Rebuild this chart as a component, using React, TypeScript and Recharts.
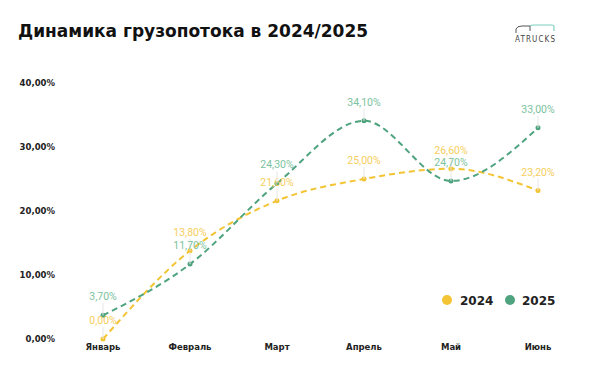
import React from 'react';
import { LineChart, Line, XAxis, YAxis, LabelList } from 'recharts';

// месяцы и значения (%)
const months = ['Январь', 'Февраль', 'Март', 'Апрель', 'Май', 'Июнь'];
const values2024 = [0.0, 13.8, 21.6, 25.0, 26.6, 23.2];
const values2025 = [3.7, 11.7, 24.3, 34.1, 24.7, 33.0];
const yTicks = [0, 10, 20, 30, 40];

const YELLOW = '#F3C433';
const YELLOW_LABEL = '#F6CE5C';
const GREEN = '#4FA37F';
const GREEN_LABEL = '#7CC3A0';

const fmt = (v: number) => v.toFixed(2).replace('.', ',') + '%';

const data = months.map((m, i) => ({ month: m, y2024: values2024[i], y2025: values2025[i] }));

const makeLabel = (color: string) => (props: any) => {
  const { x, y, value } = props;
  return (
    <g>
      <line x1={x} y1={y - 12} x2={x} y2={y} stroke="#e6e6e6" strokeWidth={1} />
      <text x={x} y={y - 15} textAnchor="middle" fill={color} fontSize={10.5} fontFamily="Roboto, sans-serif">
        {fmt(value)}
      </text>
    </g>
  );
};

const App: React.FC = () => {
  return (
    <div style={{ position: 'absolute', left: 0, top: 0, width: 600, height: 373, background: '#fff' }}>
      <div
        style={{
          position: 'absolute',
          left: 18,
          top: 21,
          fontFamily: '"DejaVu Sans", sans-serif',
          fontWeight: 'bold',
          fontSize: 17,
          color: '#111',
          whiteSpace: 'nowrap',
        }}
      >
        Динамика грузопотока в 2024/2025
      </div>

      {/* логотип */}
      <svg width={60} height={30} style={{ position: 'absolute', left: 510, top: 18 }}>
        <path d="M6 15 L6 11 Q7 8 12 8 L20 8 L20 13" fill="none" stroke="#555" strokeWidth={1} />
        <path d="M20 8 Q21 7 24 7 L42 7 Q44 7 44 9 L44 13" fill="none" stroke="#7fd0c0" strokeWidth={1.2} />
        <text x={5} y={24} fontSize={8} fontFamily="'DejaVu Sans Condensed', sans-serif" fill="#444" textLength={40}>
          ATRUCKS
        </text>
      </svg>

      {/* легенда */}
      <svg width={130} height={20} style={{ position: 'absolute', left: 436, top: 290 }}>
        <circle cx={11} cy={10} r={5} fill={YELLOW} />
        <text x={24} y={14.5} fontSize={12} fontWeight="bold" fontFamily='"DejaVu Sans", sans-serif' fill="#222">
          2024
        </text>
        <circle cx={74} cy={10} r={5} fill={GREEN} />
        <text x={86} y={14.5} fontSize={12} fontWeight="bold" fontFamily='"DejaVu Sans", sans-serif' fill="#222">
          2025
        </text>
      </svg>

      <div style={{ position: 'absolute', left: 0, top: 0 }}>
        <LineChart width={600} height={373} data={data} margin={{ top: 83, right: 62, bottom: 0, left: 0 }}>
          <XAxis
            dataKey="month"
            axisLine={false}
            tickLine={false}
            tickSize={0}
            tickMargin={5}
            height={34}
            interval={0}
            tick={{ fontSize: 8.5, fontWeight: 'bold', fill: '#222', fontFamily: '"DejaVu Sans", sans-serif' }}
          />
          <YAxis
            domain={[0, 40]}
            ticks={yTicks}
            axisLine={false}
            tickLine={false}
            tickSize={0}
            tickMargin={48}
            width={103}
            tickFormatter={fmt}
            tick={{ fontSize: 8.5, fontWeight: 'bold', fill: '#222', fontFamily: '"DejaVu Sans", sans-serif' }}
          />
          <Line
            type="monotone"
            dataKey="y2024"
            stroke={YELLOW}
            strokeWidth={2}
            strokeDasharray="6 4"
            dot={{ r: 2.5, fill: YELLOW, stroke: YELLOW, strokeWidth: 0, strokeDasharray: '' }}
            isAnimationActive={false}
          >
            <LabelList dataKey="y2024" content={makeLabel(YELLOW_LABEL)} />
          </Line>
          <Line
            type="monotone"
            dataKey="y2025"
            stroke={GREEN}
            strokeWidth={2}
            strokeDasharray="6 4"
            dot={{ r: 2.5, fill: GREEN, stroke: GREEN, strokeWidth: 0, strokeDasharray: '' }}
            isAnimationActive={false}
          >
            <LabelList dataKey="y2025" content={makeLabel(GREEN_LABEL)} />
          </Line>
        </LineChart>
      </div>
    </div>
  );
};

export default App;
